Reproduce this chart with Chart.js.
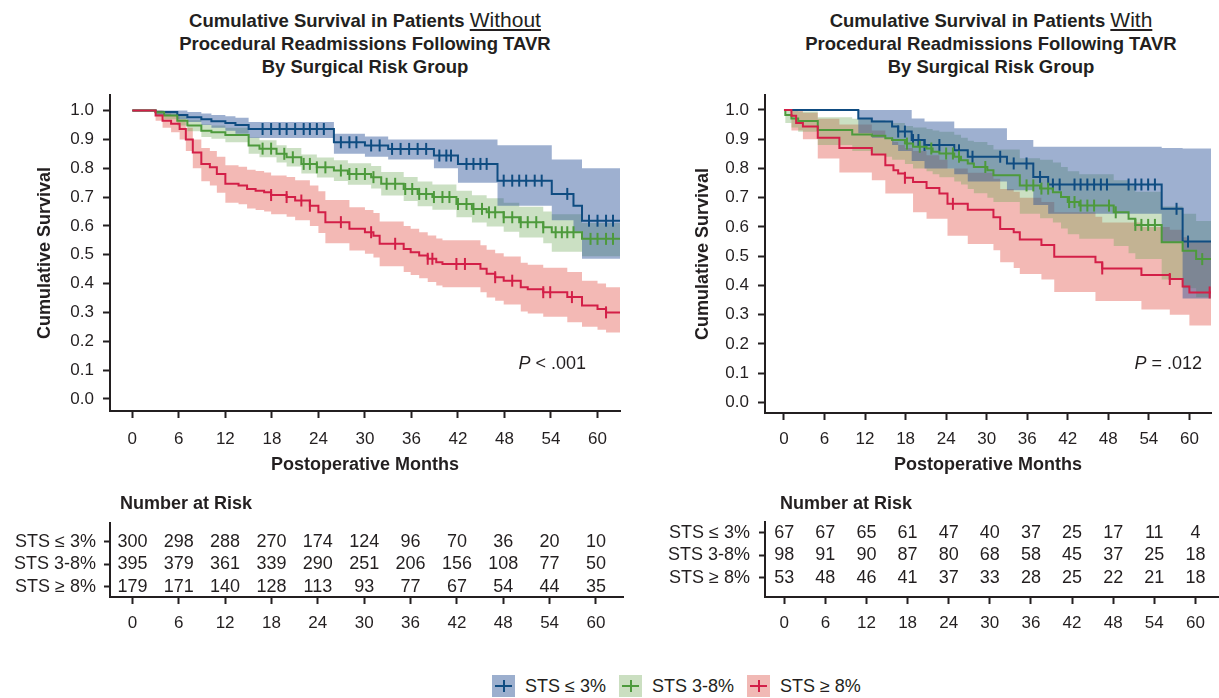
<!DOCTYPE html>
<html lang="en">
<head>
<meta charset="UTF-8">
<title>Cumulative Survival by Surgical Risk Group</title>
<style>
    * { margin: 0; padding: 0; box-sizing: border-box; }
    body {
        width: 1219px;
        height: 698px;
        position: relative;
        overflow: hidden;
        background: #fff;
        color: #231f20;
        font-family: "Liberation Sans", Arial, sans-serif;
    }
    canvas { position: absolute; }
    .title {
        position: absolute;
        top: 8px;
        width: 560px;
        text-align: center;
        font-weight: bold;
        font-size: 18.5px;
        line-height: 23px;
    }
    .title u { font-weight: normal; font-size: 21px; }
    .pval { position: absolute; top: 352px; font-size: 18px; line-height: 22px; }
    .risk-head { position: absolute; top: 493px; font-weight: bold; font-size: 18px; line-height: 20px; }
    .legend {
        position: absolute;
        top: 675px;
        left: 492px;
        display: flex;
        align-items: center;
        font-size: 18px;
        line-height: 22px;
    }
    .key { width: 23px; height: 22px; position: relative; margin-right: 10px; }
    .key::before, .key::after { content: ""; position: absolute; background: var(--c); }
    .key::before { left: 3px; right: 3px; top: 10px; height: 2px; }
    .key::after { left: 11px; width: 2px; top: 5px; bottom: 5px; }
    .legend span.txt { margin-right: 13px; }
</style>
</head>
<body>
    <div class="title" style="left:85px">Cumulative Survival in Patients <u>Without</u><br>Procedural Readmissions Following TAVR<br>By Surgical Risk Group</div>
    <div class="title" style="left:711px">Cumulative Survival in Patients <u>With</u><br>Procedural Readmissions Following TAVR<br>By Surgical Risk Group</div>

    <canvas id="woKm" width="630" height="480" style="left:0;top:0;width:630px;height:480px"></canvas>
    <canvas id="wiKm" width="579" height="480" style="left:640px;top:0;width:579px;height:480px"></canvas>
    <canvas id="woRiskTable" width="630" height="150" style="left:0;top:490px;width:630px;height:150px"></canvas>
    <canvas id="wiRiskTable" width="579" height="150" style="left:640px;top:490px;width:579px;height:150px"></canvas>

    <div class="pval" style="right:633px"><i>P</i> &lt; .001</div>
    <div class="pval" style="right:17px"><i>P</i> = .012</div>

    <div class="risk-head" style="left:120px">Number at Risk</div>
    <div class="risk-head" style="left:780px">Number at Risk</div>

    <div class="legend">
        <div class="key" style="background:#9cafce;--c:#0f4c81"></div><span class="txt">STS ≤ 3%</span>
        <div class="key" style="background:#cbdfc1;--c:#4d9a3c"></div><span class="txt">STS 3-8%</span>
        <div class="key" style="background:#f1b9b5;--c:#d31f47"></div><span class="txt">STS ≥ 8%</span>
    </div>

<script src="https://cdn.jsdelivr.net/npm/chart.js"></script>
<script>
// axis ticks and row labels
const monthTicks = [0, 6, 12, 18, 24, 30, 36, 42, 48, 54, 60];
const survTicks = [0, 0.1, 0.2, 0.3, 0.4, 0.5, 0.6, 0.7, 0.8, 0.9, 1.0];
const riskLabels = ['STS \u2264 3%', 'STS 3-8%', 'STS \u2265 8%'];

// --- patients WITHOUT procedural readmissions ---
const woLowTime  = [0, 3, 5.8, 7.1, 8.9, 10.2, 12, 13.3, 15, 26, 30, 33, 38.9, 42, 47.1, 54.1, 56.9, 58, 62.9];
const woLowSurv  = [1, 0.995, 0.985, 0.977, 0.97, 0.963, 0.957, 0.95, 0.936, 0.89, 0.879, 0.867, 0.844, 0.815, 0.757, 0.711, 0.67, 0.618, 0.618];
const woLowLower = [1, 0.985, 0.97, 0.96, 0.95, 0.94, 0.93, 0.92, 0.905, 0.85, 0.84, 0.83, 0.8, 0.75, 0.67, 0.62, 0.58, 0.486, 0.486];
const woLowUpper = [1, 1, 1, 0.995, 0.99, 0.985, 0.98, 0.975, 0.96, 0.92, 0.91, 0.9, 0.9, 0.9, 0.88, 0.83, 0.83, 0.8, 0.8];
const woLowCensor = [16.8, 17.9, 19.0, 19.9, 21.0, 22.1, 22.9, 23.8, 24.7, 26.9, 28.0, 28.9, 30.8, 31.9, 33.5, 34.6, 35.7, 36.8, 37.9,
    39.6, 40.5, 41.1, 43.1, 44.0, 44.9, 45.7, 47.9, 49.0, 49.9, 50.8, 51.9, 52.8, 56.1, 58.9, 60.0, 61.1, 62.0];

const woMidTime  = [0, 3, 4.1, 5.8, 7.1, 8.9, 10.2, 12, 15, 16.4, 18.6, 19.9, 21.8, 23.8, 26, 27.8, 30.8, 32.1, 35, 36.8,
    38.7, 41.8, 43.8, 45.7, 47.9, 49.9, 53, 54.1, 58, 62.9];
const woMidSurv  = [1, 0.994, 0.983, 0.965, 0.948, 0.93, 0.925, 0.915, 0.879, 0.868, 0.85, 0.838, 0.815, 0.803, 0.792, 0.78, 0.769, 0.746, 0.728, 0.711,
    0.7, 0.676, 0.659, 0.647, 0.63, 0.613, 0.595, 0.578, 0.555, 0.555];
const woMidLower = [1, 0.985, 0.97, 0.948, 0.928, 0.908, 0.902, 0.89, 0.85, 0.838, 0.82, 0.806, 0.782, 0.768, 0.756, 0.743, 0.73, 0.705, 0.686, 0.668,
    0.656, 0.63, 0.612, 0.598, 0.58, 0.56, 0.54, 0.51, 0.495, 0.495];
const woMidUpper = [1, 1, 0.995, 0.982, 0.968, 0.952, 0.948, 0.94, 0.907, 0.897, 0.88, 0.87, 0.848, 0.837, 0.828, 0.817, 0.808, 0.787, 0.77, 0.754,
    0.744, 0.722, 0.706, 0.696, 0.68, 0.666, 0.65, 0.64, 0.61, 0.61];
const woMidCensor = [16.8, 17.9, 19.6, 20.7, 22.1, 22.9, 23.8, 24.9, 26.9, 28.0, 28.9, 30.0, 31.1, 32.8, 33.9, 35.2, 36.1, 37.0, 37.9, 38.9,
    40.0, 40.9, 42.0, 43.1, 44.0, 45.1, 46.0, 46.8, 47.9, 49.0, 50.1, 51.0, 52.1, 53.0, 54.6, 55.4, 56.1, 56.9, 59.1, 60.0, 61.1, 62.0];

const woHighTime  = [0, 3, 3.9, 5, 6.1, 6.9, 7.8, 8.9, 10, 10.9, 12, 13.7, 14.8, 15.9, 17, 17.9, 19.9, 21, 22.9, 24,
    24.9, 28, 30, 31.1, 31.9, 35, 35.9, 37, 38.1, 39.2, 40, 44.9, 45.7, 46.8, 47.9, 50.1, 51, 53, 56.1, 58, 60, 61.1, 62.9];
const woHighSurv  = [1, 0.983, 0.965, 0.954, 0.936, 0.9, 0.855, 0.815, 0.803, 0.78, 0.746, 0.74, 0.728, 0.722, 0.717, 0.707, 0.7, 0.688, 0.67, 0.647,
    0.613, 0.59, 0.578, 0.566, 0.538, 0.52, 0.509, 0.497, 0.486, 0.474, 0.468, 0.451, 0.434, 0.422, 0.41, 0.387, 0.38, 0.37, 0.353, 0.324, 0.312, 0.3, 0.3];
const woHighLower = [1, 0.965, 0.94, 0.925, 0.9, 0.86, 0.8, 0.755, 0.74, 0.715, 0.68, 0.675, 0.66, 0.655, 0.65, 0.64, 0.632, 0.62, 0.6, 0.575,
    0.54, 0.515, 0.503, 0.49, 0.46, 0.44, 0.43, 0.418, 0.405, 0.393, 0.387, 0.37, 0.352, 0.34, 0.327, 0.303, 0.296, 0.285, 0.266, 0.25, 0.24, 0.23, 0.23];
const woHighUpper = [1, 1, 0.99, 0.985, 0.97, 0.94, 0.9, 0.87, 0.86, 0.84, 0.81, 0.805, 0.795, 0.79, 0.785, 0.775, 0.77, 0.758, 0.74, 0.72,
    0.69, 0.665, 0.655, 0.645, 0.615, 0.6, 0.59, 0.578, 0.567, 0.556, 0.55, 0.533, 0.517, 0.505, 0.494, 0.472, 0.465, 0.455, 0.44, 0.41, 0.4, 0.387, 0.387];
const woHighCensor = [17.9, 19.9, 21.8, 22.9, 26.9, 30.8, 33.9, 38.1, 38.7, 41.8, 42.9, 46.8, 49.0, 53.0, 53.9, 56.7, 61.1];

const woRisk = [
    [300, 298, 288, 270, 174, 124, 96, 70, 36, 20, 10],
    [395, 379, 361, 339, 290, 251, 206, 156, 108, 77, 50],
    [179, 171, 140, 128, 113, 93, 77, 67, 54, 44, 35]
];

// --- patients WITH procedural readmissions ---
const wiLowTime  = [0, 11, 13, 16, 16.9, 18.9, 20.8, 25.2, 27.2, 33, 36.9, 39.1, 55.9, 59, 63.2];
const wiLowSurv  = [1, 0.971, 0.96, 0.943, 0.926, 0.897, 0.88, 0.862, 0.84, 0.817, 0.771, 0.745, 0.662, 0.55, 0.55];
const wiLowLower = [1, 0.92, 0.905, 0.88, 0.86, 0.825, 0.8, 0.78, 0.755, 0.725, 0.675, 0.645, 0.545, 0.355, 0.355];
const wiLowUpper = [1, 1, 1, 1, 1, 0.971, 0.96, 0.937, 0.937, 0.897, 0.874, 0.874, 0.87, 0.868, 0.868];
const wiLowCensor = [16.9, 17.9, 19.1, 19.9, 20.8, 23.0, 25.9, 27.9, 32.0, 34.0, 35.9, 37.9, 39.8, 40.8, 43.0, 43.9, 44.9, 45.9, 46.9, 47.8,
    51.0, 52.0, 52.9, 53.9, 54.9, 58.1, 59.8];

const wiMidTime  = [0, 0.2, 1.1, 2.1, 5, 10.1, 13, 15, 16, 17.9, 19.1, 21.1, 22, 23, 25.2, 26.2, 27.2, 28.1, 30.1, 31,
    34.9, 37.9, 39.8, 41, 42, 43.7, 48.8, 51, 52, 55.9, 59, 61, 63.2];
const wiMidSurv  = [1, 0.983, 0.971, 0.962, 0.931, 0.916, 0.912, 0.903, 0.897, 0.885, 0.874, 0.868, 0.857, 0.851, 0.84, 0.828, 0.817, 0.805, 0.794, 0.777,
    0.742, 0.731, 0.719, 0.702, 0.685, 0.673, 0.65, 0.628, 0.607, 0.548, 0.519, 0.49, 0.49];
const wiMidLower = [1, 0.955, 0.94, 0.925, 0.88, 0.86, 0.85, 0.84, 0.83, 0.815, 0.8, 0.79, 0.78, 0.77, 0.755, 0.745, 0.73, 0.715, 0.7, 0.685,
    0.645, 0.63, 0.615, 0.595, 0.575, 0.56, 0.535, 0.51, 0.49, 0.42, 0.39, 0.36, 0.36];
const wiMidUpper = [1, 1, 1, 0.995, 0.975, 0.97, 0.965, 0.96, 0.955, 0.945, 0.94, 0.935, 0.93, 0.925, 0.915, 0.905, 0.895, 0.89, 0.88, 0.865,
    0.835, 0.83, 0.82, 0.805, 0.79, 0.78, 0.76, 0.74, 0.72, 0.67, 0.645, 0.62, 0.62];
const wiMidCensor = [18.2, 20.1, 21.8, 24, 25, 25.9, 29.8, 35.9, 36.9, 38.1, 39.1, 42.2, 43, 43.9, 44.9, 45.9, 48.1, 49.1, 52, 52.9, 53.9, 54.9, 61.9];

const wiHighTime  = [0, 1.1, 1.8, 2.8, 5, 8.2, 13, 15, 16.2, 16.9, 17.9, 19.1, 21.1, 23, 24.2, 27.2, 31, 32, 34, 34.9,
    38.1, 40, 46.1, 47.1, 52.9, 57.1, 59, 60, 63.2];
const wiHighSurv  = [1, 0.98, 0.955, 0.943, 0.905, 0.87, 0.848, 0.811, 0.794, 0.783, 0.768, 0.754, 0.733, 0.714, 0.679, 0.659, 0.633, 0.593, 0.582, 0.557,
    0.538, 0.498, 0.479, 0.458, 0.436, 0.422, 0.396, 0.376, 0.376];
const wiHighLower = [1, 0.93, 0.93, 0.9, 0.834, 0.786, 0.76, 0.714, 0.714, 0.714, 0.714, 0.65, 0.628, 0.628, 0.57, 0.542, 0.52, 0.479, 0.46, 0.439,
    0.42, 0.378, 0.347, 0.347, 0.318, 0.3, 0.3, 0.263, 0.263];
const wiHighUpper = [1, 1, 1, 0.99, 0.97, 0.95, 0.93, 0.905, 0.89, 0.88, 0.87, 0.86, 0.845, 0.83, 0.8, 0.785, 0.765, 0.73, 0.72, 0.7,
    0.685, 0.65, 0.635, 0.615, 0.6, 0.59, 0.565, 0.55, 0.55];
const wiHighCensor = [17.9, 25.0, 47.1, 57.1, 63.0];

const wiRisk = [
    [67, 67, 65, 61, 47, 40, 37, 25, 17, 11, 4],
    [98, 91, 90, 87, 80, 68, 58, 45, 37, 25, 18],
    [53, 48, 46, 41, 37, 33, 28, 25, 22, 21, 18]
];

// colours
const ink = '#231f20';
const lowCol  = { line: '#0f4c81', band: 'rgba(40, 80, 150, 0.45)' };
const midCol  = { line: '#4d9a3c', band: 'rgba(110, 170, 90, 0.36)' };
const highCol = { line: '#d31f47', band: 'rgba(225, 80, 70, 0.40)' };

Chart.defaults.font.family = '"Liberation Sans", Arial, sans-serif';
Chart.defaults.color = ink;

function pts(times, vals) {
    return times.map((t, i) => ({ x: t, y: vals[i] }));
}

// survival value in effect at time t (for placing censor marks on the curve)
function survAt(times, surv, t) {
    let s = surv[0];
    for (let i = 0; i < times.length; i++) {
        if (times[i] <= t) s = surv[i];
    }
    return s;
}

function groupDatasets(time, surv, lower, upper, censor, col, order) {
    return [
        { data: pts(time, upper), stepped: true, borderWidth: 0, borderColor: 'transparent', pointRadius: 0, fill: '+1', backgroundColor: col.band, order: 10 },
        { data: pts(time, lower), stepped: true, borderWidth: 0, borderColor: 'transparent', pointRadius: 0, fill: false, order: 10 },
        { data: pts(time, surv), stepped: true, borderColor: col.line, borderWidth: 2, pointRadius: 0, fill: false, order: order },
        {
            data: censor.map(t => ({ x: t, y: survAt(time, surv, t) })),
            showLine: false, fill: false, order: order,
            pointStyle: 'line', pointRotation: 90, pointRadius: 6,
            pointBorderColor: col.line, pointBorderWidth: 2
        }
    ];
}

function axisStyle(tickLen) {
    return {
        grid: { drawOnChartArea: false, tickLength: tickLen, tickWidth: 2, tickColor: ink },
        border: { color: ink, width: 2 }
    };
}

function kmChart(id, datasets, cfg) {
    return new Chart(document.getElementById(id), {
        type: 'line',
        data: { datasets: datasets },
        options: {
            responsive: false,
            animation: false,
            events: [],
            layout: { padding: { left: 0, top: 95, right: cfg.right, bottom: 0 } },
            plugins: {
                legend: { display: false },
                tooltip: { enabled: false },
                filler: { drawTime: 'beforeDatasetsDraw' }
            },
            scales: {
                x: {
                    type: 'linear',
                    min: cfg.xMin,
                    max: cfg.xMax,
                    afterBuildTicks: s => { s.ticks = monthTicks.map(v => ({ value: v })); },
                    afterFit: s => { s.height = cfg.xHeight; },
                    ticks: { font: { size: 17 }, color: ink, padding: cfg.xPad, maxRotation: 0, autoSkip: false, callback: v => v },
                    ...axisStyle(7),
                    title: { display: true, text: 'Postoperative Months', color: ink, font: { size: 18, weight: 'bold' }, padding: { top: 0, bottom: 4 } }
                },
                y: {
                    type: 'linear',
                    min: cfg.yMin,
                    max: cfg.yMax,
                    afterBuildTicks: s => { s.ticks = survTicks.map(v => ({ value: v })); },
                    afterFit: s => { s.width = cfg.yWidth; },
                    ticks: { font: { size: 17 }, color: ink, padding: 9, autoSkip: false, callback: v => v.toFixed(1) },
                    ...axisStyle(7),
                    title: { display: true, text: 'Cumulative Survival', color: ink, font: { size: 18, weight: 'bold' }, padding: { top: cfg.yTitlePad, bottom: 0 } }
                }
            }
        }
    });
}

// draws the count for each cell at its scale position
const riskNumbers = {
    id: 'riskNumbers',
    afterDatasetsDraw(chart) {
        const ctx = chart.ctx;
        ctx.save();
        ctx.font = '18px "Liberation Sans", Arial, sans-serif';
        ctx.fillStyle = ink;
        ctx.textAlign = 'center';
        ctx.textBaseline = 'middle';
        chart.data.datasets.forEach((ds, di) => {
            chart.getDatasetMeta(di).data.forEach((el, i) => {
                ctx.fillText(String(ds.data[i].n), el.x, el.y);
            });
        });
        ctx.restore();
    }
};

function riskChart(id, risk, cfg) {
    const datasets = risk.map((row, r) => ({
        data: row.map((n, i) => ({ x: monthTicks[i], y: r, n: n })),
        showLine: false,
        pointRadius: 0
    }));
    return new Chart(document.getElementById(id), {
        type: 'line',
        data: { datasets: datasets },
        options: {
            responsive: false,
            animation: false,
            events: [],
            layout: { padding: { left: 0, top: cfg.top, right: cfg.right, bottom: 0 } },
            plugins: { legend: { display: false }, tooltip: { enabled: false } },
            scales: {
                x: {
                    type: 'linear',
                    min: cfg.xMin,
                    max: cfg.xMax,
                    afterBuildTicks: s => { s.ticks = monthTicks.map(v => ({ value: v })); },
                    afterFit: s => { s.height = 43; },
                    ticks: { font: { size: 17 }, color: ink, padding: 9, maxRotation: 0, autoSkip: false, callback: v => v },
                    ...axisStyle(7)
                },
                y: {
                    type: 'linear',
                    reverse: true,
                    min: cfg.yMin,
                    max: cfg.yMax,
                    afterBuildTicks: s => { s.ticks = [0, 1, 2].map(v => ({ value: v })); },
                    afterFit: s => { s.width = cfg.yWidth; },
                    ticks: { font: { size: 18 }, color: ink, padding: cfg.yPad, autoSkip: false, callback: v => riskLabels[v] },
                    ...axisStyle(6)
                }
            }
        },
        plugins: [riskNumbers]
    });
}

kmChart('woKm', [
    ...groupDatasets(woLowTime, woLowSurv, woLowLower, woLowUpper, woLowCensor, lowCol, 3),
    ...groupDatasets(woMidTime, woMidSurv, woMidLower, woMidUpper, woMidCensor, midCol, 2),
    ...groupDatasets(woHighTime, woHighSurv, woHighLower, woHighUpper, woHighCensor, highCol, 1)
], { xMin: -2.88, xMax: 62.9, yMin: -0.042, yMax: 1.054, right: 10, xHeight: 69, yWidth: 110, xPad: 11, yTitlePad: 34 });

kmChart('wiKm', [
    ...groupDatasets(wiLowTime, wiLowSurv, wiLowLower, wiLowUpper, wiLowCensor, lowCol, 3),
    ...groupDatasets(wiMidTime, wiMidSurv, wiMidLower, wiMidUpper, wiMidCensor, midCol, 2),
    ...groupDatasets(wiHighTime, wiHighSurv, wiHighLower, wiHighUpper, wiHighCensor, highCol, 1)
], { xMin: -2.81, xMax: 63.2, yMin: -0.036, yMax: 1.051, right: 2, xHeight: 67, yWidth: 125, xPad: 9, yTitlePad: 52 });

riskChart('woRiskTable', woRisk, { xMin: -2.9, xMax: 63.5, yMin: -0.83, yMax: 2.46, top: 33, right: 7, yWidth: 110, yPad: 8 });
riskChart('wiRiskTable', wiRisk, { xMin: -2.81, xMax: 63.3, yMin: -0.47, yMax: 2.84, top: 32, right: 1, yWidth: 125, yPad: 9 });
</script>
</body>
</html>
